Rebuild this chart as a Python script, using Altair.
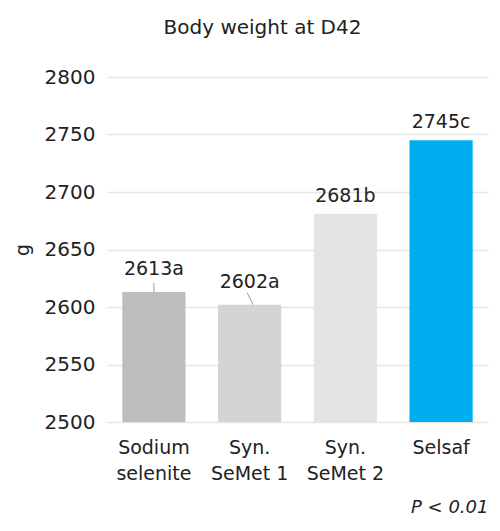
import altair as alt
import pandas as pd

categories = ["Sodium\nselenite", "Syn.\nSeMet 1", "Syn.\nSeMet 2", "Selsaf"]
values = [2613, 2602, 2681, 2745]
letters = ["a", "a", "b", "c"]
colors = ["#bdbdbd", "#d4d4d4", "#e4e4e4", "#00aeef"]
y_ticks = [2500, 2550, 2600, 2650, 2700, 2750, 2800]
y_min, y_max = 2500, 2800

df = pd.DataFrame({"cat": categories, "value": values, "letter": letters})
df["label"] = df["value"].astype(str) + df["letter"]

FONT = "DejaVu Sans"

x_enc = alt.X(
    "cat:N",
    sort=categories,
    scale=alt.Scale(paddingInner=0.34, paddingOuter=0.16),
    axis=alt.Axis(
        title="P < 0.01",
        titleFontStyle="italic",
        titleFontWeight="normal",
        titleFontSize=18,
        titleColor="#222",
        titleAnchor="end",
        titleAlign="right",
        titlePadding=15,
        labelExpr="split(datum.label, '\\n')",
        labelAngle=0,
        labelFontSize=19,
        labelColor="#222",
        labelLineHeight=26,
        labelPadding=16,
        domain=False,
        ticks=False,
    ),
)
y_enc = alt.Y(
    "value:Q",
    scale=alt.Scale(domain=[y_min, y_max], nice=False, zero=False),
    axis=alt.Axis(
        values=y_ticks,
        format="d",
        title="g",
        titleFontSize=19,
        titleFontWeight="normal",
        titleColor="#222",
        titlePadding=12,
        labelFontSize=20,
        labelColor="#222",
        labelPadding=12,
        domain=False,
        ticks=False,
        gridColor="#e6e6e6",
        gridWidth=1.5,
    ),
)

base = alt.Chart(df)

bars = base.mark_bar().encode(
    x=x_enc,
    y=y_enc,
    y2=alt.datum(y_min),
    color=alt.Color("cat:N", scale=alt.Scale(domain=categories, range=colors), legend=None),
)

labels_plain = base.transform_filter(
    alt.FieldOneOfPredicate(field="cat", oneOf=categories[2:])
).mark_text(baseline="alphabetic", dy=-12, fontSize=19, font=FONT, color="#222").encode(
    x=alt.X("cat:N", sort=categories), y="value:Q", text="label:N"
)
labels_lead = base.transform_filter(
    alt.FieldOneOfPredicate(field="cat", oneOf=categories[:2])
).mark_text(baseline="alphabetic", dy=-17, fontSize=19, font=FONT, color="#222").encode(
    x=alt.X("cat:N", sort=categories), y="value:Q", text="label:N"
)

lead1 = base.transform_filter(
    alt.FieldEqualPredicate(field="cat", equal=categories[0])
).mark_rule(color="#9a9a9a", strokeWidth=1, y2Offset=-9).encode(
    x=alt.X("cat:N", sort=categories), y="value:Q", y2="value:Q"
)
lead2 = base.transform_filter(
    alt.FieldEqualPredicate(field="cat", equal=categories[1])
).mark_rule(color="#9a9a9a", strokeWidth=1, xOffset=3.5, x2Offset=-2.5, y2Offset=-12).encode(
    x=alt.X("cat:N", sort=categories, bandPosition=0.5),
    x2=alt.X2("cat:N"),
    y="value:Q",
    y2="value:Q",
)

chart = (
    alt.layer(bars, lead1, lead2, labels_plain, labels_lead)
    .properties(
        width=381,
        height=345,
        padding={"left": 5, "top": 10, "right": 3, "bottom": 3},
        title=alt.Title(
            "Body weight at D42",
            fontSize=20,
            fontWeight="normal",
            font=FONT,
            color="#222",
            anchor="middle",
            dx=-35,
            offset=29,
        ),
    )
    .configure(font=FONT)
    .configure_view(stroke=None)
)

chart.save("out.html", embed_options={"renderer": "svg", "actions": False})
